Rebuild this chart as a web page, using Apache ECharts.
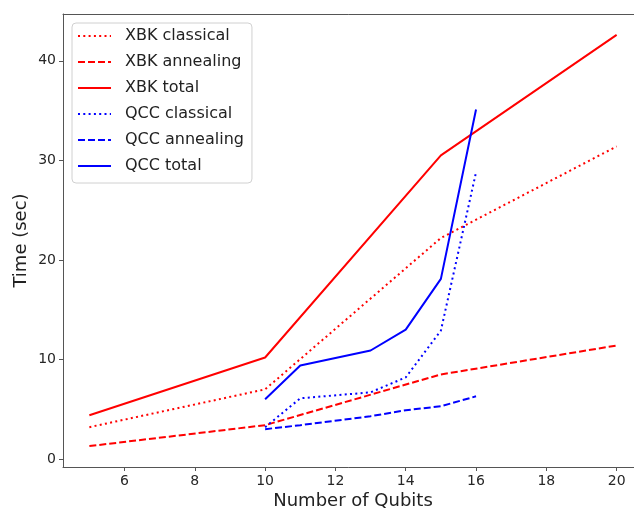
<!DOCTYPE html>
<html>
<head>
<meta charset="utf-8">
<script src="https://cdn.jsdelivr.net/npm/echarts@6/dist/echarts.min.js"></script>
<style>
  html, body { margin: 0; padding: 0; background: #fff; overflow: hidden; }
  #main { width: 634px; height: 508px; }
</style>
</head>
<body>
<div id="main"></div>
<script>
// qubit counts
const xbkQubits = [5, 10, 15, 20]
const qccQubits = [10, 11, 13, 14, 15, 16]

// times in seconds
const xbkClassical = [3.2, 7.0, 22.2, 31.4]
const xbkAnnealing = [1.3, 3.4, 8.5, 11.4]
const xbkTotal = [4.4, 10.2, 30.5, 42.6]
const qccClassical = [3.2, 6.1, 6.7, 8.2, 12.9, 28.8]
const qccAnnealing = [3.0, 3.4, 4.3, 4.9, 5.3, 6.3]
const qccTotal = [6.0, 9.4, 10.9, 13.0, 18.1, 35.1]

const xTicks = [6, 8, 10, 12, 14, 16, 18, 20]
const yTicks = [0, 10, 20, 30, 40]

const pairs = (xs, ys) => xs.map((x, i) => [x, ys[i]])

const RED = '#ff0000'
const BLUE = '#0000ff'
const DOT = [2, 3.3]
const DASH = [7, 3]

const mkLine = (name, data, color, type) => ({
  name: name,
  type: 'line',
  data: data,
  showSymbol: false,
  symbol: 'none',
  animation: false,
  lineStyle: { color: color, width: 2, type: type },
  itemStyle: { color: color }
})

const axisFont = { fontFamily: 'DejaVu Sans', fontSize: 14, color: '#262626' }
const spine = () => ({ show: true, onZero: false, lineStyle: { color: '#555', width: 1 } })

let option = {
  animation: false,
  grid: {
    left: 63,
    right: -9,
    top: 14,
    bottom: 41,
    outerBoundsMode: 'none',
    containLabel: false
  },
  legend: {
    orient: 'vertical',
    left: 72,
    top: 23,
    padding: [5, 8, 9, 5],
    itemWidth: 33,
    itemHeight: 14,
    itemGap: 10,
    backgroundColor: 'rgba(255,255,255,0.8)',
    borderColor: '#d0d0d0',
    borderWidth: 1,
    borderRadius: 4,
    itemStyle: { opacity: 0 },
    textStyle: { fontFamily: 'DejaVu Sans', fontSize: 16, color: '#222', padding: [0, 0, 0, 9] },
    data: ['XBK classical', 'XBK annealing', 'XBK total', 'QCC classical', 'QCC annealing', 'QCC total']
  },
  xAxis: [
    {
      type: 'value',
      position: 'bottom',
      min: 4.25,
      max: 20.75,
      name: 'Number of Qubits',
      nameLocation: 'middle',
      nameGap: 25,
      nameMoveOverlap: false,
      nameTextStyle: { fontFamily: 'DejaVu Sans', fontSize: 18, color: '#222' },
      splitLine: { show: false },
      axisLine: spine(),
      axisTick: { show: true, length: 4, lineStyle: { color: '#555' }, customValues: xTicks },
      axisLabel: Object.assign({ margin: 7, customValues: xTicks }, axisFont)
    },
    {
      // top spine only
      type: 'value',
      position: 'top',
      min: 4.25,
      max: 20.75,
      splitLine: { show: false },
      axisLine: spine(),
      axisTick: { show: false },
      axisLabel: { show: false }
    }
  ],
  yAxis: {
    type: 'value',
    position: 'left',
    min: -0.8,
    max: 44.7,
    name: 'Time (sec)',
    nameLocation: 'middle',
    nameGap: 33,
    nameMoveOverlap: false,
    nameTextStyle: { fontFamily: 'DejaVu Sans', fontSize: 18, color: '#222' },
    splitLine: { show: false },
    axisLine: spine(),
    axisTick: { show: true, length: 4, lineStyle: { color: '#555' }, customValues: yTicks },
    axisLabel: Object.assign({ margin: 7, customValues: yTicks }, axisFont)
  },
  series: [
    mkLine('XBK classical', pairs(xbkQubits, xbkClassical), RED, DOT),
    mkLine('XBK annealing', pairs(xbkQubits, xbkAnnealing), RED, DASH),
    mkLine('XBK total', pairs(xbkQubits, xbkTotal), RED, 'solid'),
    mkLine('QCC classical', pairs(qccQubits, qccClassical), BLUE, DOT),
    mkLine('QCC annealing', pairs(qccQubits, qccAnnealing), BLUE, DASH),
    mkLine('QCC total', pairs(qccQubits, qccTotal), BLUE, 'solid')
  ]
}

let myChart = echarts.init(document.getElementById('main'))
myChart.setOption(option)
</script>
</body>
</html>
